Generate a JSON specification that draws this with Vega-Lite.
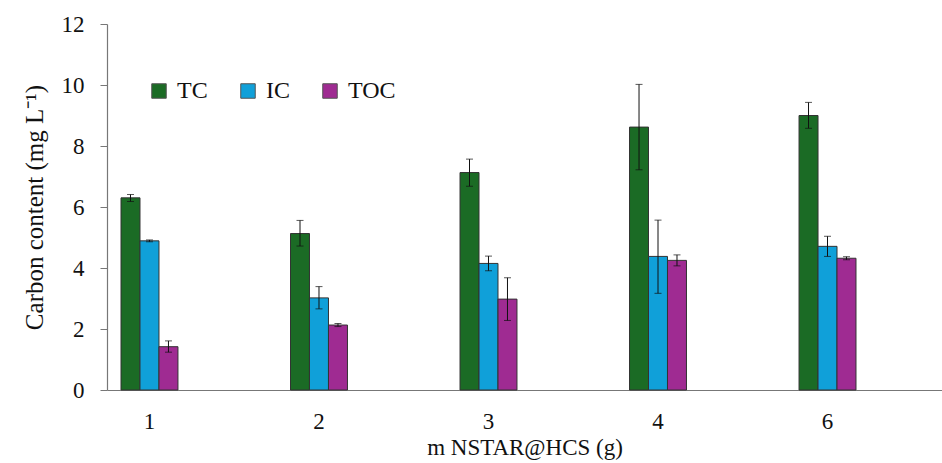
{
  "$schema": "https://vega.github.io/schema/vega-lite/v6.json",
  "autosize": "none",
  "width": 835,
  "height": 366,
  "padding": {"left": 107, "top": 24, "right": 0, "bottom": 73},
  "background": "white",
  "config": {
    "font": "Liberation Serif",
    "view": {"stroke": null},
    "axis": {"labelFont": "Liberation Serif", "titleFont": "Liberation Serif", "labelColor": "#111", "titleColor": "#111", "titleFontWeight": "normal", "domainColor": "#777", "tickColor": "#777"}
  },
  "data": {
    "values": [
      {"m": "1", "series": "TC", "value": 6.30, "lo": 6.18, "hi": 6.41},
      {"m": "1", "series": "IC", "value": 4.89, "lo": 4.86, "hi": 4.92},
      {"m": "1", "series": "TOC", "value": 1.42, "lo": 1.24, "hi": 1.61},
      {"m": "2", "series": "TC", "value": 5.13, "lo": 4.72, "hi": 5.56},
      {"m": "2", "series": "IC", "value": 3.02, "lo": 2.66, "hi": 3.39},
      {"m": "2", "series": "TOC", "value": 2.13, "lo": 2.08, "hi": 2.18},
      {"m": "3", "series": "TC", "value": 7.13, "lo": 6.68, "hi": 7.57},
      {"m": "3", "series": "IC", "value": 4.15, "lo": 3.91, "hi": 4.39},
      {"m": "3", "series": "TOC", "value": 2.98, "lo": 2.28, "hi": 3.68},
      {"m": "4", "series": "TC", "value": 8.62, "lo": 7.22, "hi": 10.02},
      {"m": "4", "series": "IC", "value": 4.38, "lo": 3.17, "hi": 5.57},
      {"m": "4", "series": "TOC", "value": 4.25, "lo": 4.07, "hi": 4.43},
      {"m": "6", "series": "TC", "value": 9.00, "lo": 8.58, "hi": 9.43},
      {"m": "6", "series": "IC", "value": 4.71, "lo": 4.38, "hi": 5.04},
      {"m": "6", "series": "TOC", "value": 4.32, "lo": 4.27, "hi": 4.37}
    ]
  },
  "encoding": {
    "x": {
      "field": "m",
      "type": "nominal",
      "sort": ["1", "2", "3", "4", "6"],
      "scale": {"paddingInner": 0.664, "paddingOuter": 0.295, "align": 0.14},
      "axis": {"title": "m NSTAR@HCS (g)", "labelAngle": 0, "labelFontSize": 23, "titleFontSize": 23, "ticks": false, "tickSize": 0, "labelPadding": 20, "titlePadding": 3, "domainWidth": 1.2}
    },
    "xOffset": {"field": "series", "type": "nominal", "sort": ["TC", "IC", "TOC"], "scale": {"paddingInner": 0, "paddingOuter": 0}}
  },
  "layer": [
    {
      "mark": {"type": "bar", "stroke": "#333", "strokeWidth": 1},
      "encoding": {
        "y": {
          "field": "value",
          "type": "quantitative",
          "scale": {"domain": [0, 12], "nice": false},
          "axis": {"title": "Carbon content (mg L⁻¹)", "values": [0, 2, 4, 6, 8, 10, 12], "grid": false, "labelFontSize": 23, "titleFontSize": 25, "tickSize": 7, "labelPadding": 16, "titlePadding": 14, "domainWidth": 1.2}
        },
        "color": {
          "field": "series",
          "type": "nominal",
          "sort": ["TC", "IC", "TOC"],
          "scale": {"domain": ["TC", "IC", "TOC"], "range": ["#1b6b25", "#10a0d9", "#9f2b92"]},
          "legend": {
            "title": null,
            "orient": "none",
            "legendX": 40,
            "legendY": 55,
            "direction": "horizontal",
            "columns": 3,
            "columnPadding": 28,
            "symbolType": "square",
            "symbolSize": 210,
            "symbolStrokeColor": "#555",
            "symbolStrokeWidth": 1,
            "symbolOpacity": 1,
            "labelFontSize": 24,
            "labelFont": "Liberation Serif",
            "labelColor": "#111",
            "labelOffset": 6,
            "padding": 0
          }
        }
      }
    },
    {
      "mark": {"type": "rule", "color": "#111", "strokeWidth": 1},
      "encoding": {
        "y": {"field": "lo", "type": "quantitative"},
        "y2": {"field": "hi"}
      }
    },
    {
      "mark": {"type": "tick", "color": "#111", "size": 7, "thickness": 1},
      "encoding": {"y": {"field": "hi", "type": "quantitative"}}
    },
    {
      "mark": {"type": "tick", "color": "#111", "size": 7, "thickness": 1},
      "encoding": {"y": {"field": "lo", "type": "quantitative"}}
    }
  ]
}
